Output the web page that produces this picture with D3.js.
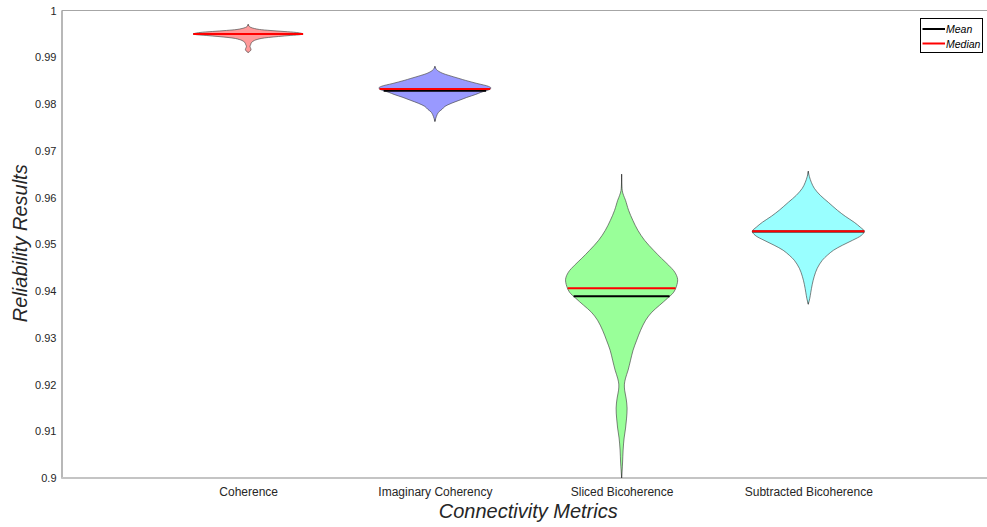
<!DOCTYPE html>
<html>
<head>
<meta charset="utf-8">
<script src="https://cdn.jsdelivr.net/npm/d3@7/dist/d3.min.js"></script>
<style>
  html, body { margin: 0; padding: 0; background: #fff; }
  svg { display: block; font-family: "Liberation Sans", Arial, Helvetica, sans-serif; }
</style>
</head>
<body>
<svg id="chart" width="987" height="527"></svg>
<script>
// Connectivity metrics shown as violins
const categories = ["Coherence", "Imaginary Coherency", "Sliced Bicoherence", "Subtracted Bicoherence"];
const means   = [0.99495, 0.98285, 0.93889, 0.95275];
const medians = [0.99498, 0.98323, 0.94060, 0.95278];

// Density profiles: reliability value and relative kernel density (1 = widest point)
const coherenceValues  = [0.99701, 0.99658, 0.99637, 0.99615, 0.99594, 0.99573, 0.99551, 0.99530, 0.99509, 0.99498, 0.99487, 0.99466, 0.99444, 0.99423, 0.99402, 0.99380, 0.99359, 0.99316, 0.99274, 0.99231, 0.99188, 0.99156, 0.99124, 0.99103];
const coherenceDensity = [0, 0.02, 0.05, 0.11, 0.20, 0.39, 0.64, 0.86, 0.96, 0.98, 0.95, 0.75, 0.54, 0.36, 0.23, 0.16, 0.11, 0.06, 0.045, 0.032, 0.045, 0.05, 0.027, 0];

const imaginaryValues  = [0.98803, 0.98739, 0.98697, 0.98654, 0.98611, 0.98547, 0.98504, 0.98440, 0.98376, 0.98344, 0.98312, 0.98291, 0.98248, 0.98205, 0.98141, 0.98077, 0.98013, 0.97949, 0.97885, 0.97821, 0.97735, 0.97650, 0.97628];
const imaginaryDensity = [0, 0.027, 0.071, 0.143, 0.25, 0.43, 0.55, 0.75, 0.96, 1, 0.98, 0.93, 0.82, 0.73, 0.57, 0.43, 0.29, 0.18, 0.125, 0.0625, 0.027, 0.005, 0];

const slicedValues  = [0.96496, 0.96154, 0.96047, 0.95940, 0.95726, 0.95513, 0.95299, 0.95085, 0.94872, 0.94701, 0.94551, 0.94402, 0.94252, 0.94103, 0.93974, 0.93846, 0.93697, 0.93547, 0.93376, 0.93162, 0.92949, 0.92735, 0.92521, 0.92308, 0.92137, 0.92009, 0.91880, 0.91709, 0.91496, 0.91282, 0.91068, 0.90855, 0.90598, 0.90342, 0.90171, 0.90000];
const slicedDensity = [0, 0.01, 0.035, 0.07, 0.125, 0.20, 0.29, 0.41, 0.57, 0.71, 0.84, 0.95, 1, 0.98, 0.93, 0.82, 0.68, 0.54, 0.43, 0.34, 0.27, 0.205, 0.16, 0.116, 0.071, 0.05, 0.054, 0.08, 0.098, 0.089, 0.071, 0.045, 0.027, 0.018, 0.009, 0];

const subtractedValues  = [0.96560, 0.96453, 0.96325, 0.96197, 0.96047, 0.95897, 0.95726, 0.95598, 0.95470, 0.95363, 0.95278, 0.95192, 0.95085, 0.94979, 0.94872, 0.94765, 0.94658, 0.94487, 0.94316, 0.94145, 0.93974, 0.93846, 0.93718];
const subtractedDensity = [0, 0.018, 0.054, 0.107, 0.214, 0.357, 0.52, 0.66, 0.82, 0.93, 1, 0.95, 0.79, 0.61, 0.45, 0.34, 0.25, 0.16, 0.107, 0.071, 0.045, 0.027, 0];

const yTicks = [0.9, 0.91, 0.92, 0.93, 0.94, 0.95, 0.96, 0.97, 0.98, 0.99, 1];
const legendItems = ["Mean", "Median"];

const profiles = [
  { values: coherenceValues,  density: coherenceDensity },
  { values: imaginaryValues,  density: imaginaryDensity },
  { values: slicedValues,     density: slicedDensity },
  { values: subtractedValues, density: subtractedDensity }
];
const fillColors = ["#ff9999", "#9999ff", "#99ff99", "#99ffff"];
const halfWidth = 0.3; // violin half-width in category units

const svg = d3.select("#chart");
const plotLeft = 61.5, plotTop = 10.5, plotBottom = 478, plotRight = 995;

const x = d3.scaleLinear().domain([0, 5]).range([plotLeft, plotRight]);
const y = d3.scaleLinear().domain([0.9, 1]).range([plotBottom, plotTop]);

// top edge of the axes box
svg.append("line").attr("x1", plotLeft).attr("x2", 987).attr("y1", plotTop).attr("y2", plotTop)
  .attr("stroke", "#a6a6a6").attr("stroke-width", 1);

// y axis
const yAxis = d3.axisLeft(y).tickValues(yTicks).tickSize(0).tickPadding(5)
  .tickFormat(d => d3.format("~g")(d));
const gy = svg.append("g").attr("transform", `translate(${plotLeft},0)`).call(yAxis);
gy.select(".domain").attr("stroke", "#a0a0a0").attr("stroke-width", 1.5);
gy.selectAll("text").attr("font-size", 11).attr("fill", "#262626")
  .attr("font-family", "'Liberation Sans', Arial, sans-serif");

// x axis
const xAxis = d3.axisBottom(x).tickValues([1, 2, 3, 4]).tickSize(0).tickPadding(9)
  .tickFormat(d => categories[d - 1]);
const gx = svg.append("g").attr("transform", `translate(0,${plotBottom})`).call(xAxis);
gx.select(".domain").attr("d", `M${plotLeft},0H987`).attr("stroke", "#c4c4c4").attr("stroke-width", 2);
gx.selectAll("text").attr("font-size", 12).attr("fill", "#262626")
  .attr("font-family", "'Liberation Sans', Arial, sans-serif");

// axis titles
svg.append("text").attr("x", (plotLeft + plotRight) / 2).attr("y", 518)
  .attr("text-anchor", "middle").attr("font-size", 20).attr("font-style", "italic")
  .attr("fill", "#262626").text("Connectivity Metrics");
svg.append("text").attr("transform", `translate(26.5,${(plotTop + plotBottom) / 2 - 1}) rotate(-90)`)
  .attr("text-anchor", "middle").attr("font-size", 20).attr("font-style", "italic")
  .attr("fill", "#262626").text("Reliability Results");

// violins
const area = d3.area()
  .curve(d3.curveCatmullRom.alpha(0.5));

profiles.forEach((p, i) => {
  const pos = i + 1;
  const pts = p.values.map((v, k) => ({ v, d: p.density[k] }));
  const g = svg.append("g");

  // whisker from min to max
  g.append("line")
    .attr("x1", x(pos)).attr("x2", x(pos))
    .attr("y1", y(d3.max(p.values))).attr("y2", y(d3.min(p.values)))
    .attr("stroke", "#000").attr("stroke-width", 1);

  g.append("path")
    .datum(pts)
    .attr("d", area
      .y(d => y(d.v))
      .x0(d => x(pos - halfWidth * d.d))
      .x1(d => x(pos + halfWidth * d.d)))
    .attr("fill", fillColors[i])
    .attr("stroke", "#4d4d4d").attr("stroke-width", 0.7);

  const widthAt = d3.scaleLinear().domain(p.values).range(p.density);

  // mean, then median on top
  [[means[i], "#000"], [medians[i], "#ff0000"]].forEach(([v, c]) => {
    const w = halfWidth * widthAt(v);
    g.append("line")
      .attr("x1", x(pos - w)).attr("x2", x(pos + w))
      .attr("y1", y(v)).attr("y2", y(v))
      .attr("stroke", c).attr("stroke-width", 2);
  });
});

// legend
const lg = svg.append("g");
lg.append("rect").attr("x", 920.5).attr("y", 18.5).attr("width", 62).attr("height", 34)
  .attr("fill", "#fff").attr("stroke", "#000").attr("stroke-width", 1);
legendItems.forEach((name, k) => {
  const ly = 29 + k * 14.5;
  lg.append("line").attr("x1", 922.5).attr("x2", 945).attr("y1", ly).attr("y2", ly)
    .attr("stroke", k === 0 ? "#000" : "#ff0000").attr("stroke-width", 2);
  lg.append("text").attr("x", 946).attr("y", ly + 4).attr("font-size", 10.5)
    .attr("font-style", "italic").attr("fill", "#000").text(name);
});
</script>
</body>
</html>
